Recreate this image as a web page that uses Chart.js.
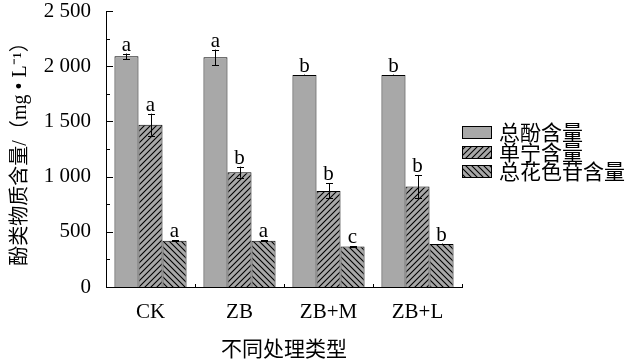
<!DOCTYPE html>
<html>
<head>
<meta charset="utf-8">
<script src="https://cdn.jsdelivr.net/npm/chart.js@4.4.1/dist/chart.umd.min.js"></script>
<style>
html,body{margin:0;padding:0;background:#fff;}
#wrap{width:630px;height:360px;position:relative;}
</style>
</head>
<body>
<div id="wrap"><canvas id="c" width="630" height="360"></canvas></div>
<script>
const categories = ['CK', 'ZB', 'ZB+M', 'ZB+L'];
const seriesNames = ['总酚含量', '单宁含量', '总花色苷含量'];
const totalPhenol = [2090, 2080, 1920, 1920];
const tannin = [1470, 1040, 870, 910];
const anthocyanin = [420, 418, 366, 390];
const totalPhenolErr = [25, 70, 4, 4];
const tanninErr = [100, 50, 68, 105];
const anthocyaninErr = [4, 4, 4, 4];
const totalPhenolSig = ['a', 'a', 'b', 'b'];
const tanninSig = ['a', 'b', 'b', 'b'];
const anthocyaninSig = ['a', 'a', 'c', 'b'];
const yTickValues = [0, 500, 1000, 1500, 2000, 2500];
const yTickLabels = ['0', '500', '1 000', '1 500', '2 000', '2 500'];
const yAxisTitle = '酚类物质含量/（mg • L⁻¹）';
const xAxisTitle = '不同处理类型';

const GRAY = '#a8a8a8';
const SERIF = "'Liberation Serif', 'Times New Roman', serif";
const CJK = "'Liberation Serif', 'Noto Sans CJK SC', sans-serif";

function makeHatch(dir) {
  const s = 6;
  const c = document.createElement('canvas');
  c.width = s; c.height = s;
  const g = c.getContext('2d');
  g.fillStyle = GRAY;
  g.fillRect(0, 0, s, s);
  g.strokeStyle = '#000';
  g.lineWidth = 1.1;
  g.beginPath();
  if (dir === '/') {
    g.moveTo(-1, s + 1); g.lineTo(s + 1, -1);
    g.moveTo(-1, 1); g.lineTo(1, -1);
    g.moveTo(s - 1, s + 1); g.lineTo(s + 1, s - 1);
  } else {
    g.moveTo(-1, -1); g.lineTo(s + 1, s + 1);
    g.moveTo(s - 1, -1); g.lineTo(s + 1, 1);
    g.moveTo(-1, s - 1); g.lineTo(1, s + 1);
  }
  g.stroke();
  return document.getElementById('c').getContext('2d').createPattern(c, 'repeat');
}
const fills = [GRAY, makeHatch('/'), makeHatch('\\')];
const errs = [totalPhenolErr, tanninErr, anthocyaninErr];
const sigs = [totalPhenolSig, tanninSig, anthocyaninSig];

const decorPlugin = {
  id: 'decor',
  afterDatasetsDraw(chart) {
    const ctx = chart.ctx;
    const y = chart.scales.y;
    const area = chart.chartArea;
    ctx.save();
    ctx.strokeStyle = '#000';
    ctx.lineWidth = 1;
    chart.data.datasets.forEach((ds, di) => {
      const meta = chart.getDatasetMeta(di);
      meta.data.forEach((bar, i) => {
        const v = ds.data[i], e = errs[di][i];
        const cx = Math.round(bar.x) + 0.5;
        const yt = y.getPixelForValue(v + e);
        const yb = y.getPixelForValue(v - e);
        ctx.beginPath();
        ctx.moveTo(cx, yt); ctx.lineTo(cx, yb);
        ctx.moveTo(cx - 3.5, Math.round(yt) + 0.5); ctx.lineTo(cx + 3.5, Math.round(yt) + 0.5);
        ctx.moveTo(cx - 3.5, Math.round(yb) + 0.5); ctx.lineTo(cx + 3.5, Math.round(yb) + 0.5);
        ctx.stroke();
        ctx.fillStyle = '#000';
        ctx.font = '21px ' + SERIF;
        ctx.textAlign = 'center';
        ctx.textBaseline = 'alphabetic';
        ctx.fillText(sigs[di][i], bar.x, yt - 3);
      });
    });
    for (let v = 0; v <= 2500; v += 250) {
      const py = Math.round(y.getPixelForValue(v)) + 0.5;
      const len = (v % 500 === 0) ? 7 : 4;
      ctx.beginPath();
      ctx.moveTo(area.left, py); ctx.lineTo(area.left + len, py);
      ctx.stroke();
    }
    const n = categories.length;
    for (let i = 1; i <= n; i++) {
      const px = Math.round(area.left + (area.right - area.left) * i / n) + 0.5;
      ctx.beginPath();
      ctx.moveTo(px, area.bottom); ctx.lineTo(px, area.bottom - 3);
      ctx.stroke();
    }
    const lx = 462, rows = [126, 146, 165];
    chart.data.datasets.forEach((ds, di) => {
      ctx.fillStyle = ds.backgroundColor;
      ctx.fillRect(lx, rows[di], 29, 12);
      ctx.strokeRect(lx + 0.5, rows[di] + 0.5, 29, 12);
      ctx.fillStyle = '#000';
      ctx.font = "21px 'Noto Sans CJK SC', sans-serif";
      ctx.textAlign = 'left';
      ctx.textBaseline = 'middle';
      ctx.fillText(ds.label, 499, rows[di] + 6);
    });
    ctx.restore();
  }
};

new Chart(document.getElementById('c'), {
  type: 'bar',
  data: {
    labels: categories,
    datasets: [
      { label: seriesNames[0], data: totalPhenol, backgroundColor: fills[0], borderColor: '#000', borderWidth: 1 },
      { label: seriesNames[1], data: tannin, backgroundColor: fills[1], borderColor: '#000', borderWidth: 1 },
      { label: seriesNames[2], data: anthocyanin, backgroundColor: fills[2], borderColor: '#000', borderWidth: 1 }
    ]
  },
  options: {
    responsive: false,
    animation: false,
    devicePixelRatio: 1,
    layout: { padding: { top: 11, right: 168, left: 0, bottom: 0 } },
    datasets: { bar: { categoryPercentage: 0.81, barPercentage: 1.0 } },
    plugins: { legend: { display: false }, tooltip: { enabled: false } },
    scales: {
      x: {
        grid: { display: false },
        border: { display: true, color: '#000', width: 1 },
        ticks: { color: '#000', font: { family: SERIF, size: 21 }, padding: 5 },
        title: { display: true, text: xAxisTitle, color: '#000', font: { family: CJK, size: 21 }, padding: { top: 17, bottom: -3 } },
        afterFit(s) { s.height = 73; s.paddingLeft = 0; s.paddingRight = 0; }
      },
      y: {
        min: 0, max: 2500,
        grid: { display: false },
        border: { display: true, color: '#000', width: 1 },
        afterBuildTicks(s) { s.ticks = yTickValues.map(v => ({ value: v })); },
        ticks: {
          color: '#000', font: { family: SERIF, size: 21 }, padding: 7,
          callback(v) { const i = yTickValues.indexOf(v); return i >= 0 ? yTickLabels[i] : ''; }
        },
        title: { display: true, text: yAxisTitle, color: '#000', font: { family: CJK, size: 20 }, padding: { top: 9, bottom: 0 } },
        afterFit(s) { s.width = 106; s.paddingTop = 0; s.paddingBottom = 0; }
      }
    }
  },
  plugins: [decorPlugin]
});
</script>
</body>
</html>
